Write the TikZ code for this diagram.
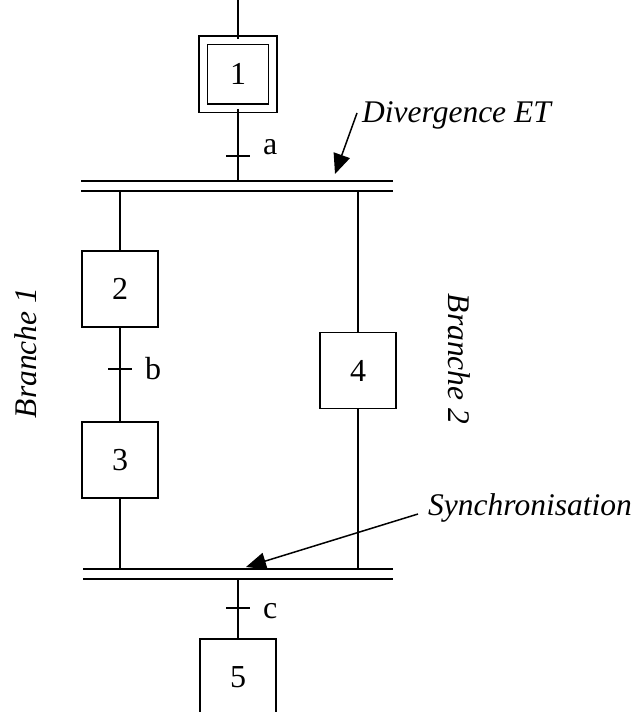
\documentclass[tikz,border=0pt]{standalone}
\usepackage{fontspec}
\setmainfont{Liberation Serif}
\usetikzlibrary{arrows.meta}
\begin{document}
\begin{tikzpicture}[x=1pt,y=-1pt,
  stepbox/.style={draw,line width=1.5pt,minimum width=76pt,minimum height=76pt,inner sep=0pt,font=\fontsize{32}{36}\selectfont},
  initbox/.style={stepbox,double,double distance=7pt,minimum width=69.5pt,minimum height=68pt},
  link/.style={line width=1.5pt},
  bar/.style={line width=1.8pt},
  tickmark/.style={line width=1.5pt},
  lbl/.style={font=\fontsize{32}{36}\selectfont,inner sep=0pt},
  note/.style={font=\fontsize{31.5}{36}\selectfont\itshape,inner sep=0pt},
  pointer/.style={line width=1.5pt,-{Triangle[length=20pt,width=17pt]}}]
\useasboundingbox (0,0) rectangle (639,712);
\clip (0,0) rectangle (639,712);

% top step
\coordinate (top) at (238,0);
\node[initbox] (s1) at (238,74) {1};
\coordinate (ta) at (238,156);
\draw[link] (top) -- (s1.north);

% divergence bar
\coordinate (dTL) at (81,181);
\coordinate (dTR) at (393,181);
\coordinate (dBL) at (81,191);
\coordinate (dBR) at (393,191);
\coordinate (dIn) at (238,181);
\draw[bar] (dTL) -- (dTR);
\draw[bar] (dBL) -- (dBR);
\draw[link] (s1.south) -- (dIn);
\draw[tickmark] ([xshift=-12pt]ta) -- ([xshift=12pt]ta);
\node[lbl,anchor=base west] (la) at (263,154) {a};

% branch 1
\coordinate (b1top) at (120,191);
\node[stepbox] (s2) at (120,289) {2};
\coordinate (tb) at (120,369);
\node[stepbox] (s3) at (120,460) {3};
\coordinate (b1bot) at (120,569);
\draw[link] (b1top) -- (s2.north);
\draw[link] (s2.south) -- (s3.north);
\draw[link] (s3.south) -- (b1bot);
\draw[tickmark] ([xshift=-12pt]tb) -- ([xshift=12pt]tb);
\node[lbl,anchor=base west] (lb) at (145,379) {b};

% branch 2
\coordinate (b2top) at (358,191);
\node[stepbox] (s4) at (358,370.5) {4};
\coordinate (b2bot) at (358,569);
\draw[link] (b2top) -- (s4.north);
\draw[link] (s4.south) -- (b2bot);

% synchronisation bar
\coordinate (sTL) at (83,569);
\coordinate (sTR) at (393,569);
\coordinate (sBL) at (83,579);
\coordinate (sBR) at (393,579);
\coordinate (sOut) at (238,579);
\draw[bar] (sTL) -- (sTR);
\draw[bar] (sBL) -- (sBR);

% final step
\coordinate (tc) at (238,608);
\node[stepbox] (s5) at (238,677) {5};
\draw[link] (sOut) -- (s5.north);
\draw[tickmark] ([xshift=-12pt]tc) -- ([xshift=12pt]tc);
\node[lbl,anchor=base west] (lc) at (263,618) {c};

% annotations
\node[note,anchor=base west] (tdiv) at (362,122) {Divergence ET};
\coordinate (dvs) at (357,113);
\coordinate (dve) at (335,174);
\draw[pointer] (dvs) -- (dve);

\node[note,anchor=base west] (tsync) at (428,515) {Synchronisation};
\coordinate (sys) at (418,514);
\coordinate (sye) at (246,567);
\draw[pointer] (sys) -- (sye);

\node[note,rotate=90] (br1) at (26,353) {Branche 1};
\node[note,rotate=-90] (br2) at (459,359) {Branche 2};
\end{tikzpicture}
\end{document}
